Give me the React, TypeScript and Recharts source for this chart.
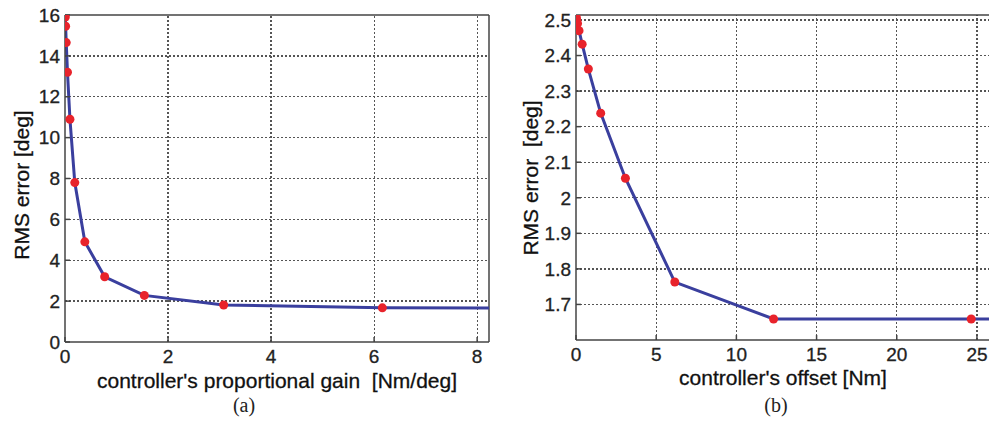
import {
  ComposedChart,
  Line,
  XAxis,
  YAxis,
  ReferenceLine,
} from "recharts";

// (a) RMS error vs proportional gain
const gainValues = [0.006, 0.012, 0.024, 0.048, 0.096, 0.19, 0.385, 0.77, 1.54, 3.08, 6.16];
const gainRms = [15.9, 15.45, 14.65, 13.2, 10.9, 7.8, 4.9, 3.19, 2.28, 1.81, 1.67];
const gainTail = { x: 12.32, y: 1.65 };
const gainTicks = [0, 2, 4, 6, 8];
const gainRmsTicks = [0, 2, 4, 6, 8, 10, 12, 14, 16];

// (b) RMS error vs offset
const offsetValues = [0.012, 0.024, 0.048, 0.096, 0.19, 0.385, 0.77, 1.54, 3.08, 6.16, 12.32, 24.64];
const offsetRms = [2.508, 2.503, 2.498, 2.49, 2.47, 2.432, 2.362, 2.238, 2.055, 1.763, 1.659, 1.659];
const offsetTail = { x: 30, y: 1.659 };
const offsetTicks = [0, 5, 10, 15, 20, 25];
const offsetRmsTicks = [1.7, 1.8, 1.9, 2, 2.1, 2.2, 2.3, 2.4, 2.5];

const LINE_COLOR = "#3a3f9e";
const DOT_COLOR = "#e8232b";
const FRAME = "#444";
const GRID = "#555";
const FONT = "'Liberation Sans', Arial, sans-serif";
const TICK = { fill: "#222", fontSize: 19, fontFamily: FONT, stroke: "#222", strokeWidth: 0.3 };

const gainPoints = gainValues.map((x, i) => ({ x, y: gainRms[i] }));
const offsetPoints = offsetValues.map((x, i) => ({ x, y: offsetRms[i] }));

function RedDot(props: any) {
  const { cx, cy, index } = props;
  return <circle key={index} cx={cx} cy={cy} r={4.5} fill={DOT_COLOR} />;
}

interface PanelProps {
  points: { x: number; y: number }[];
  tail: { x: number; y: number };
  xDomain: [number, number];
  yDomain: [number, number];
  xTicks: number[];
  yTicks: number[];
  margin: { top: number; right: number; bottom: number; left: number };
  yWidth: number;
  rightFrame: boolean;
}

function Panel({ points, tail, xDomain, yDomain, xTicks, yTicks, margin, yWidth, rightFrame }: PanelProps) {
  return (
    <ComposedChart width={500} height={427} margin={margin} data={points}>
      <XAxis
        dataKey="x"
        type="number"
        domain={xDomain}
        ticks={xTicks}
        allowDataOverflow
        height={30}
        tick={TICK}
        tickSize={-5}
        tickMargin={13}
        axisLine={{ stroke: FRAME, strokeWidth: 1.5 }}
        tickLine={{ stroke: FRAME, strokeWidth: 1.5 }}
      />
      <YAxis
        dataKey="y"
        type="number"
        domain={yDomain}
        ticks={yTicks}
        allowDataOverflow
        width={yWidth}
        tick={TICK}
        tickSize={-5}
        tickMargin={10}
        axisLine={{ stroke: FRAME, strokeWidth: 1.5 }}
        tickLine={{ stroke: FRAME, strokeWidth: 1.5 }}
      />
      {xTicks.filter((v) => v > xDomain[0]).map((v) => (
        <ReferenceLine
          key={`gx${v}`}
          x={v}
          stroke={GRID}
          strokeWidth={1.2}
          strokeDasharray="2 2"
          shapeRendering="crispEdges"
        />
      ))}
      {yTicks.filter((v) => v > yDomain[0] && v < yDomain[1]).map((v) => (
        <ReferenceLine
          key={`gy${v}`}
          y={v}
          stroke={GRID}
          strokeWidth={1.4}
          strokeDasharray="2 2"
          shapeRendering="crispEdges"
        />
      ))}
      <ReferenceLine y={yDomain[1]} stroke={FRAME} strokeWidth={1.5} />
      {rightFrame && <ReferenceLine x={xDomain[1]} stroke={FRAME} strokeWidth={1.5} />}
      <Line
        data={[...points, tail]}
        dataKey="y"
        stroke={LINE_COLOR}
        strokeWidth={3}
        dot={false}
        isAnimationActive={false}
      />
      <Line
        data={points}
        dataKey="y"
        stroke="none"
        dot={<RedDot />}
        isAnimationActive={false}
      />
    </ComposedChart>
  );
}

const labelStyle: React.CSSProperties = {
  position: "absolute",
  fontFamily: FONT,
  fontSize: 21,
  lineHeight: "20px",
  color: "#111",
  whiteSpace: "pre",
  textAlign: "center",
  WebkitTextStroke: "0.3px #111",
};

const captionStyle: React.CSSProperties = {
  position: "absolute",
  width: 100,
  top: 395,
  textAlign: "center",
  fontFamily: "'Liberation Serif', 'Times New Roman', serif",
  fontSize: 20,
  lineHeight: "20px",
  color: "#222",
};

export default function App() {
  return (
    <div
      style={{
        position: "absolute",
        top: 0,
        left: 0,
        width: 989,
        height: 427,
        overflow: "hidden",
        background: "#fff",
      }}
    >
      <div style={{ position: "absolute", left: 0, top: 0 }}>
        <Panel
          points={gainPoints}
          tail={gainTail}
          xDomain={[0, 8.23]}
          yDomain={[0, 16]}
          xTicks={gainTicks}
          yTicks={gainRmsTicks}
          margin={{ top: 15, right: 11, bottom: 55, left: 10 }}
          yWidth={55}
          rightFrame
        />
      </div>
      <div style={{ position: "absolute", left: 500, top: 0 }}>
        <Panel
          points={offsetPoints}
          tail={offsetTail}
          xDomain={[0, 26]}
          yDomain={[1.6, 2.514]}
          xTicks={offsetTicks}
          yTicks={offsetRmsTicks}
          margin={{ top: 15, right: 7, bottom: 57, left: 16 }}
          yWidth={60}
          rightFrame={false}
        />
      </div>

      <div style={{ ...labelStyle, left: 0, width: 554, top: 371 }}>
        {"controller's proportional gain  [Nm/deg]"}
      </div>
      <div style={{ ...labelStyle, left: 583, width: 400, top: 368 }}>
        {"controller's offset [Nm]"}
      </div>
      <div
        style={{
          ...labelStyle,
          left: 22 - 100,
          width: 200,
          top: 185 - 10,
          transform: "rotate(-90deg)",
        }}
      >
        {"RMS error [deg]"}
      </div>
      <div
        style={{
          ...labelStyle,
          left: 531 - 100,
          width: 200,
          top: 178 - 10,
          transform: "rotate(-90deg)",
        }}
      >
        {"RMS error  [deg]"}
      </div>

      <div style={{ ...captionStyle, left: 194 }}>(a)</div>
      <div style={{ ...captionStyle, left: 726 }}>(b)</div>
    </div>
  );
}
